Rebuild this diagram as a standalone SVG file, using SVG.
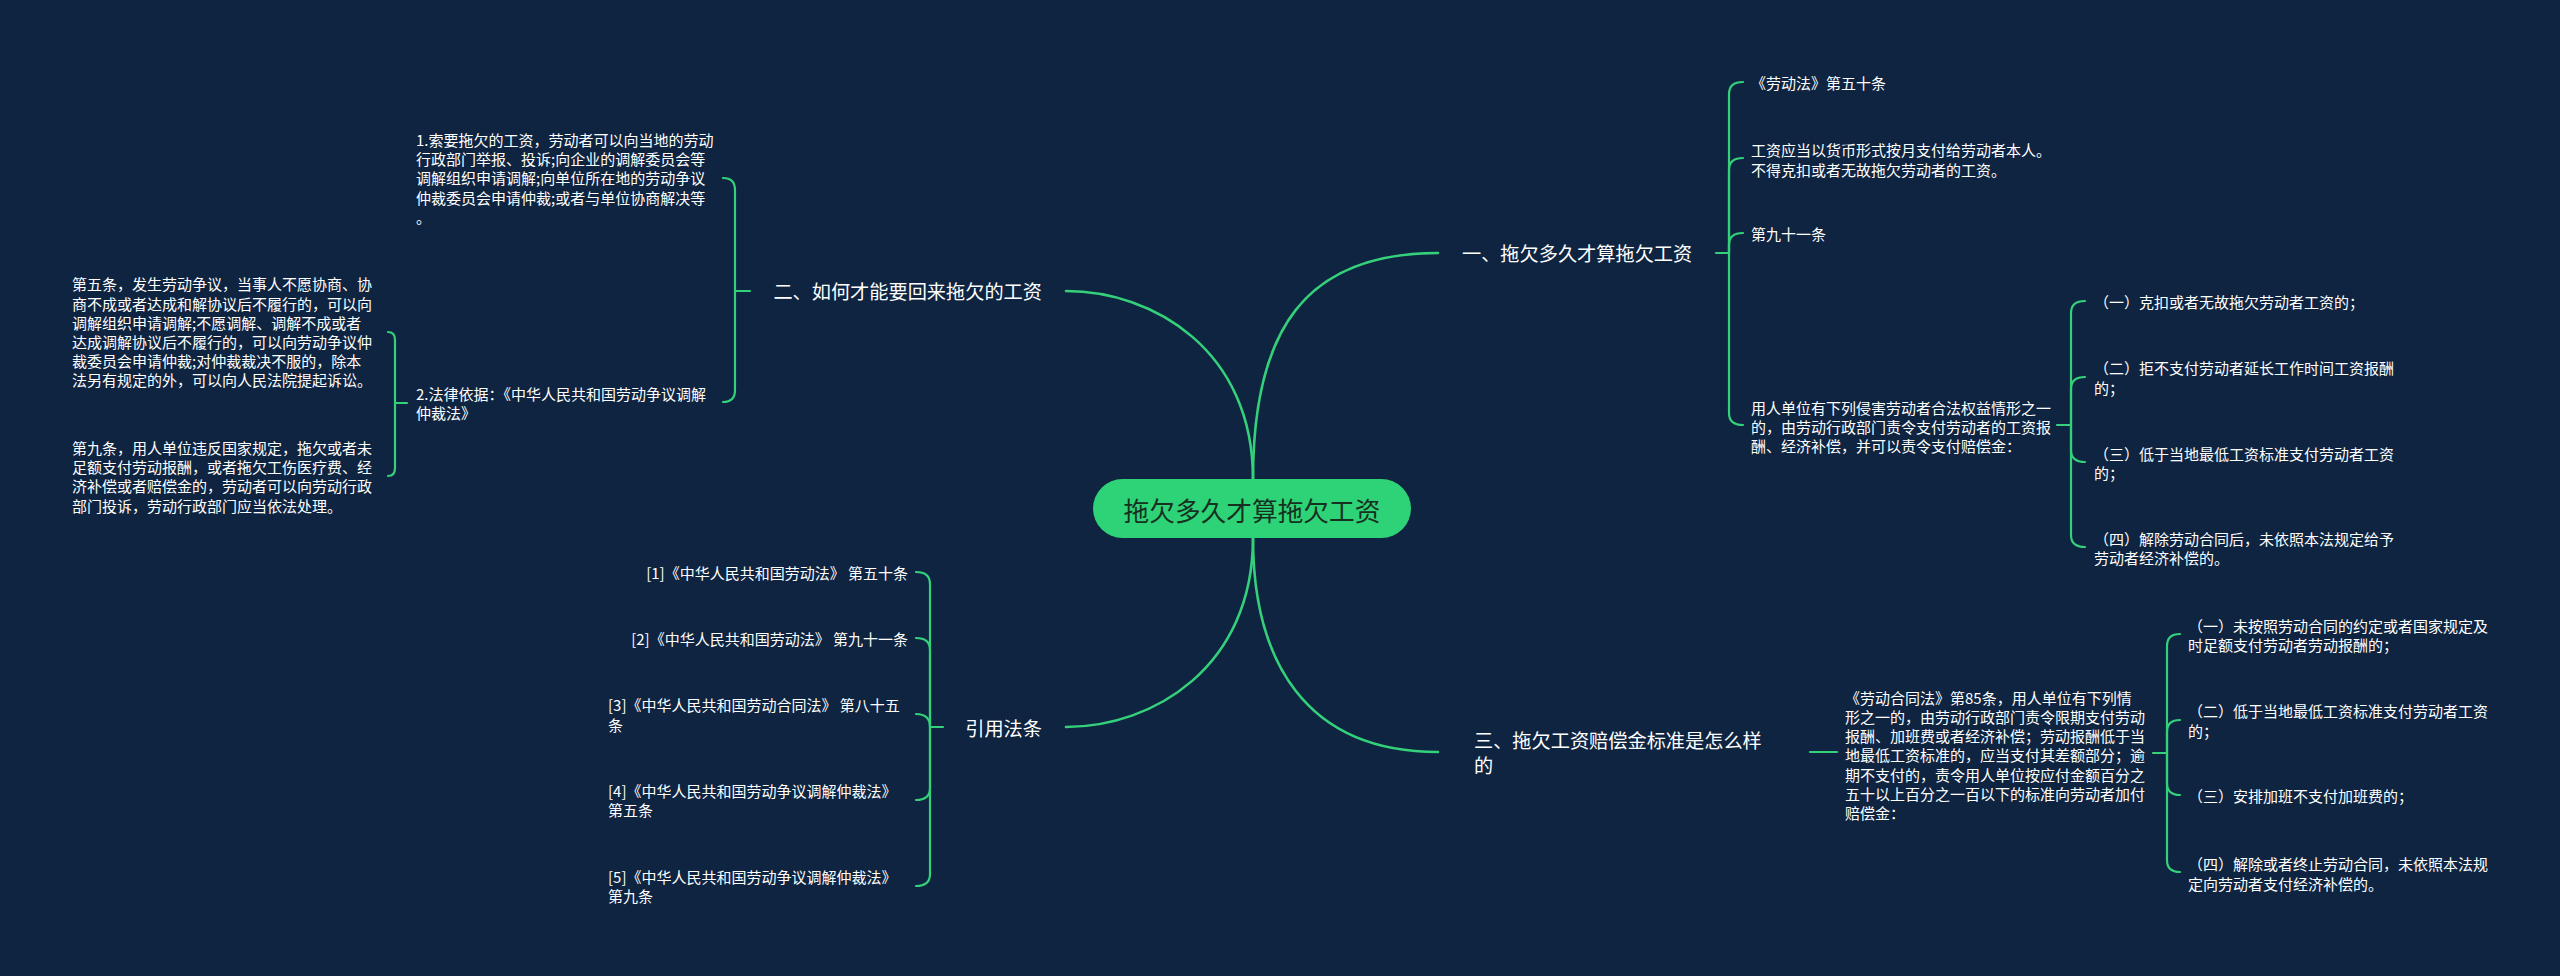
<svg xmlns="http://www.w3.org/2000/svg" width="2560" height="976" viewBox="0 0 2560 976">
<style>
.l1{fill:none;stroke:#34d07a;stroke-width:2.6;stroke-linecap:round}
.l2{fill:none;stroke:#34d07a;stroke-width:2.2;stroke-linecap:round}
text,tspan{font-family:"Noto Sans CJK SC","Liberation Sans",sans-serif;dominant-baseline:central}
.t{fill:#ffffff;font-size:15px}
.m{fill:#ffffff;font-size:19.2px}
.e{text-anchor:end}
.root{fill:#17301f;font-size:25.7px;text-anchor:middle}
</style>
<rect x="0" y="0" width="2560" height="976" fill="#0e2441"/>
<g id="connectors">
<path class="l1" d="M1253,479 C1253,330 1305,253 1438,253"/>
<path class="l1" d="M1253,479 C1253,350 1153,291 1066,291"/>
<path class="l1" d="M1253,538 C1253,660 1305,752 1438,752"/>
<path class="l1" d="M1253,538 C1253,667 1153,727 1066,727"/>
<path class="l2" d="M1716,253 H1729"/>
<path class="l2" d="M1729,253 V94 Q1729,82 1743,82"/>
<path class="l2" d="M1729,253 V170 Q1729,158 1743,158"/>
<path class="l2" d="M1729,253 V245 Q1729,233 1743,233"/>
<path class="l2" d="M1729,253 V413 Q1729,425 1743,425"/>
<path class="l2" d="M2057,425 H2071"/>
<path class="l2" d="M2071,425 V313 Q2071,301 2085,301"/>
<path class="l2" d="M2071,425 V389 Q2071,377 2085,377"/>
<path class="l2" d="M2071,425 V450 Q2071,462 2085,462"/>
<path class="l2" d="M2071,425 V535 Q2071,547 2085,547"/>
<path class="l2" d="M1810,752 H1837"/>
<path class="l2" d="M2153,753 H2167"/>
<path class="l2" d="M2167,753 V646 Q2167,634 2180,634"/>
<path class="l2" d="M2167,753 V732 Q2167,720 2180,720"/>
<path class="l2" d="M2167,753 V783 Q2167,795 2180,795"/>
<path class="l2" d="M2167,753 V860 Q2167,872 2180,872"/>
<path class="l2" d="M750,291 H735"/>
<path class="l2" d="M735,291 V190 Q735,178 723,178"/>
<path class="l2" d="M735,291 V390 Q735,402 723,402"/>
<path class="l2" d="M407,403 H395"/>
<path class="l2" d="M395,403 V340 Q395,332 388,332"/>
<path class="l2" d="M395,403 V468 Q395,476 388,476"/>
<path class="l2" d="M943,727 H930"/>
<path class="l2" d="M930,727 V584 Q930,572 916,572"/>
<path class="l2" d="M930,727 V650 Q930,638 916,638"/>
<path class="l2" d="M930,727 C930,718 925,714 916,714"/>
<path class="l2" d="M930,727 V788 Q930,800 916,800"/>
<path class="l2" d="M930,727 V874 Q930,886 916,886"/>
</g>
<g id="root">
<rect x="1093" y="479" width="318" height="59" rx="29.5" fill="#2fd377"/>
<text class="root" x="1252" y="509">拖欠多久才算拖欠工资</text>
</g>
<g id="b1"><text class="m" x="1462" y="253">一、拖欠多久才算拖欠工资</text></g>
<g id="b1c1"><text class="t" x="1751" y="82">《劳动法》第五十条</text></g>
<g id="b1c2"><text class="t"><tspan x="1751" y="149.3">工资应当以货币形式按月支付给劳动者本人。</tspan><tspan x="1751" y="168.5">不得克扣或者无故拖欠劳动者的工资。</tspan></text></g>
<g id="b1c3"><text class="t" x="1751" y="233">第九十一条</text></g>
<g id="b1c4"><text class="t"><tspan x="1751" y="406.5">用人单位有下列侵害劳动者合法权益情形之一</tspan><tspan x="1751" y="425.7">的，由劳动行政部门责令支付劳动者的工资报</tspan><tspan x="1751" y="444.9">酬、经济补偿，并可以责令支付赔偿金：</tspan></text></g>
<g id="b1c4a"><text class="t" x="2094" y="301">（一）克扣或者无故拖欠劳动者工资的；</text></g>
<g id="b1c4b"><text class="t"><tspan x="2094" y="367.4">（二）拒不支付劳动者延长工作时间工资报酬</tspan><tspan x="2094" y="386.6">的；</tspan></text></g>
<g id="b1c4c"><text class="t"><tspan x="2094" y="452.8">（三）低于当地最低工资标准支付劳动者工资</tspan><tspan x="2094" y="472">的；</tspan></text></g>
<g id="b1c4d"><text class="t"><tspan x="2094" y="538.2">（四）解除劳动合同后，未依照本法规定给予</tspan><tspan x="2094" y="557.4">劳动者经济补偿的。</tspan></text></g>
<g id="b3"><text class="m"><tspan x="1474" y="740">三、拖欠工资赔偿金标准是怎么样</tspan><tspan x="1474" y="765">的</tspan></text></g>
<g id="b3c1"><text class="t"><tspan x="1845" y="696.7">《劳动合同法》第85条，用人单位有下列情</tspan><tspan x="1845" y="715.9">形之一的，由劳动行政部门责令限期支付劳动</tspan><tspan x="1845" y="735.1">报酬、加班费或者经济补偿；劳动报酬低于当</tspan><tspan x="1845" y="754.3">地最低工资标准的，应当支付其差额部分；逾</tspan><tspan x="1845" y="773.5">期不支付的，责令用人单位按应付金额百分之</tspan><tspan x="1845" y="792.7">五十以上百分之一百以下的标准向劳动者加付</tspan><tspan x="1845" y="811.9">赔偿金：</tspan></text></g>
<g id="b3c1a"><text class="t"><tspan x="2188" y="625">（一）未按照劳动合同的约定或者国家规定及</tspan><tspan x="2188" y="644.2">时足额支付劳动者劳动报酬的；</tspan></text></g>
<g id="b3c1b"><text class="t"><tspan x="2188" y="710.3">（二）低于当地最低工资标准支付劳动者工资</tspan><tspan x="2188" y="729.5">的；</tspan></text></g>
<g id="b3c1c"><text class="t" x="2188" y="795">（三）安排加班不支付加班费的；</text></g>
<g id="b3c1d"><text class="t"><tspan x="2188" y="863.3">（四）解除或者终止劳动合同，未依照本法规</tspan><tspan x="2188" y="882.5">定向劳动者支付经济补偿的。</tspan></text></g>
<g id="b2"><text class="m e" x="1042" y="291">二、如何才能要回来拖欠的工资</text></g>
<g id="b2c1"><text class="t"><tspan x="416" y="139">1.索要拖欠的工资，劳动者可以向当地的劳动</tspan><tspan x="416" y="158.2">行政部门举报、投诉;向企业的调解委员会等</tspan><tspan x="416" y="177.4">调解组织申请调解;向单位所在地的劳动争议</tspan><tspan x="416" y="196.6">仲裁委员会申请仲裁;或者与单位协商解决等</tspan><tspan x="416" y="215.8">。</tspan></text></g>
<g id="b2c2"><text class="t"><tspan x="416" y="393">2.法律依据：《中华人民共和国劳动争议调解</tspan><tspan x="416" y="412.2">仲裁法》</tspan></text></g>
<g id="b2c2a"><text class="t"><tspan x="72" y="283.3">第五条，发生劳动争议，当事人不愿协商、协</tspan><tspan x="72" y="302.5">商不成或者达成和解协议后不履行的，可以向</tspan><tspan x="72" y="321.7">调解组织申请调解;不愿调解、调解不成或者</tspan><tspan x="72" y="340.9">达成调解协议后不履行的，可以向劳动争议仲</tspan><tspan x="72" y="360.1">裁委员会申请仲裁;对仲裁裁决不服的，除本</tspan><tspan x="72" y="379.3">法另有规定的外，可以向人民法院提起诉讼。</tspan></text></g>
<g id="b2c2b"><text class="t"><tspan x="72" y="447">第九条，用人单位违反国家规定，拖欠或者未</tspan><tspan x="72" y="466.2">足额支付劳动报酬，或者拖欠工伤医疗费、经</tspan><tspan x="72" y="485.4">济补偿或者赔偿金的，劳动者可以向劳动行政</tspan><tspan x="72" y="504.6">部门投诉，劳动行政部门应当依法处理。</tspan></text></g>
<g id="b4"><text class="m e" x="1042" y="728">引用法条</text></g>
<g id="b4c1"><text class="t e" x="908" y="572">[1]《中华人民共和国劳动法》 第五十条</text></g>
<g id="b4c2"><text class="t e" x="908" y="638">[2]《中华人民共和国劳动法》 第九十一条</text></g>
<g id="b4c3"><text class="t"><tspan x="608" y="704.3">[3]《中华人民共和国劳动合同法》 第八十五</tspan><tspan x="608" y="723.5">条</tspan></text></g>
<g id="b4c4"><text class="t"><tspan x="608" y="790">[4]《中华人民共和国劳动争议调解仲裁法》</tspan><tspan x="608" y="809.2">第五条</tspan></text></g>
<g id="b4c5"><text class="t"><tspan x="608" y="876">[5]《中华人民共和国劳动争议调解仲裁法》</tspan><tspan x="608" y="895.2">第九条</tspan></text></g>
</svg>
